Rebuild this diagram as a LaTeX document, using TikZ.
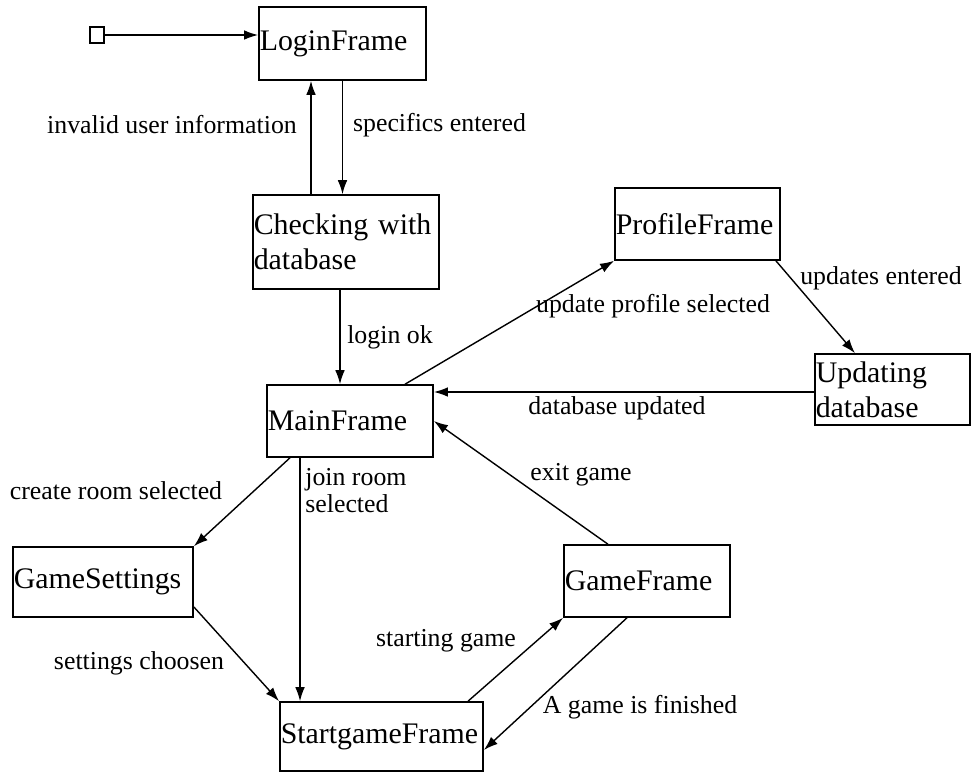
\documentclass[tikz,border=0pt]{standalone}
\usepackage{fontspec}
\setmainfont{Liberation Serif}
\usetikzlibrary{arrows.meta}
\newcommand{\statefont}{\fontsize{17}{19.8}\selectfont}
\newcommand{\trfont}{\fontsize{14.7}{15.3}\selectfont}

\begin{document}
\begin{tikzpicture}[x=0.02cm,y=-0.02cm,>={Latex[length=8pt,width=5.5pt]},
  state/.style={draw,line width=0.9pt,align=left,inner xsep=0.5pt,inner ysep=0pt,font=\statefont},
  tr/.style={font=\trfont,inner sep=0pt},
  flow/.style={->,line width=0.8pt}]
  \useasboundingbox (0,0) rectangle (971,772);
  % states
  \node[draw,line width=0.8pt,minimum width=0.28cm,minimum height=0.32cm,inner sep=0pt] (init) at (97,35) {};
  \node[state,text width=3.31cm,minimum height=1.46cm] (login) at (342.5,43.5) {LoginFrame};
  \node[state,text width=3.69cm,minimum height=1.88cm] (check) at (346,242) {Checking with\\database};
  \node[state,text width=3.27cm,minimum height=1.44cm] (profile) at (697.5,224) {ProfileFrame};
  \node[state,text width=3.07cm,minimum height=1.42cm] (update) at (892.5,389.5) {Updating\\database};
  \node[state,text width=3.29cm,minimum height=1.44cm] (main) at (350,421) {MainFrame};
  \node[state,text width=3.57cm,minimum height=1.40cm] (settings) at (103,582) {GameSettings};
  \node[state,text width=3.29cm,minimum height=1.44cm] (game) at (647,581) {GameFrame};
  \node[state,text width=4.03cm,minimum height=1.38cm] (start) at (381.5,736.5) {StartgameFrame};
  % helper points
  \coordinate (c1) at ([xshift=-0.7cm]check.north);
  \coordinate (c2) at ([xshift=-0.12cm]check.south);
  \coordinate (m1) at ([xshift=-1cm]main.south);
  % transitions
  \draw[flow] (init.east) -- (init.east -| login.west);
  \draw[flow] (c1) -- (c1 |- login.south);
  \draw[flow] (login.south) -- (login.south |- check.north);
  \draw[flow] (c2) -- (c2 |- main.north);
  \draw[flow] ([xshift=1.1cm]main.north) -- (profile.south west);
  \draw[flow] ([xshift=-0.1cm]profile.south east) -- ([xshift=-0.75cm]update.north);
  \draw[flow] ([yshift=-0.05cm]update.west) -- ([yshift=-0.05cm]update.west -| main.east);
  \draw[flow] ([xshift=-0.78cm]game.north) -- (main.east);
  \draw[flow] ([xshift=-1.2cm]main.south) -- (settings.north east);
  \draw[flow] (m1) -- (m1 |- start.north);
  \draw[flow] ([yshift=-0.5cm]settings.east) -- (start.north west);
  \draw[flow] ([xshift=1.73cm]start.north) -- (game.south west);
  \draw[flow] ([xshift=-0.4cm]game.south) -- ([yshift=-0.27cm]start.east);
  % labels
  \node[tr] (t1) at (172,125) {invalid user information};
  \node[tr] (t2) at (439.5,125) {specifics entered};
  \node[tr] (t3) at (390,337) {login ok};
  \node[tr] (t4) at (653,306) {update profile selected};
  \node[tr] (t5) at (881,278) {updates entered};
  \node[tr] (t6) at (617,408) {database updated};
  \node[tr] (t7) at (116,491) {create room selected};
  \node[tr,align=left,anchor=west] (t8) at (305,491) {join room\\selected};
  \node[tr] (t9) at (581,475) {exit game};
  \node[tr] (t10) at (139,663) {settings choosen};
  \node[tr] (t11) at (446,641) {starting game};
  \node[tr] (t12) at (640,707) {A game is finished};
\end{tikzpicture}
\end{document}
